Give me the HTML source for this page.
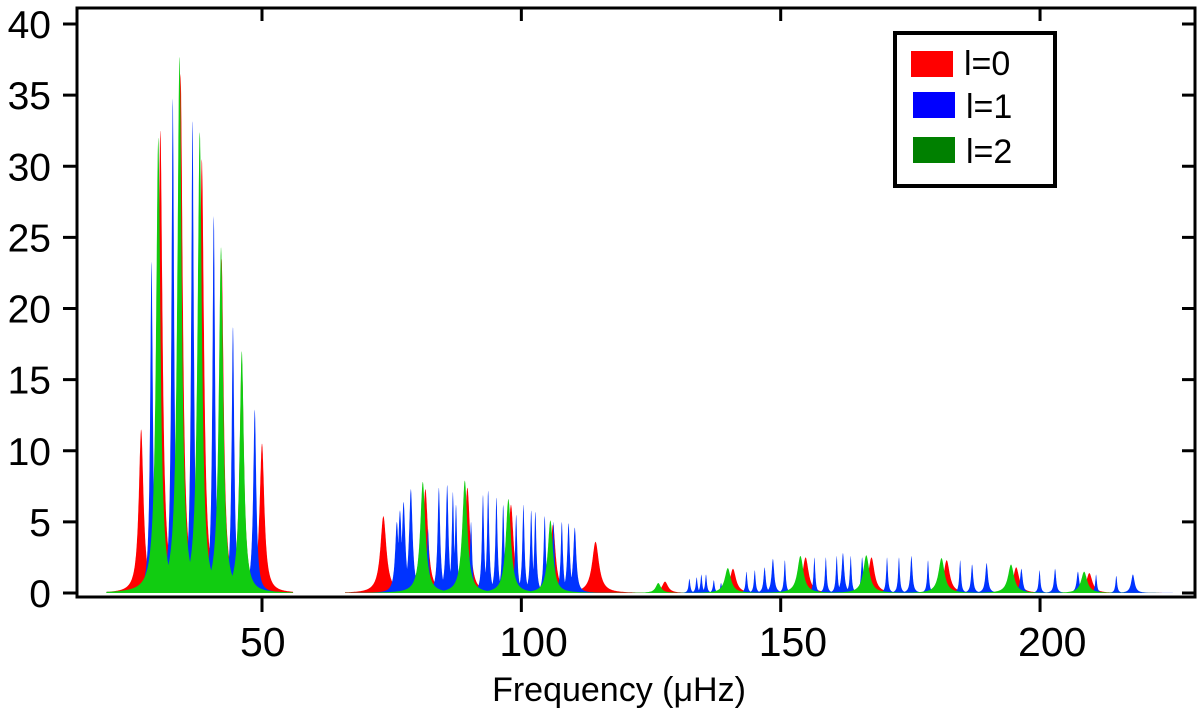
<!DOCTYPE html>
<html><head><meta charset="utf-8"><style>
body{margin:0;background:#fff;}
svg text{font-family:"Liberation Sans",sans-serif;fill:#000;}
</style></head><body>
<svg id="chart" width="1200" height="713" viewBox="0 0 1200 713" xmlns="http://www.w3.org/2000/svg">
<g id="series"></g>
<g id="axes"></g>
<g>
<rect x="895" y="33" width="160" height="153" fill="#fff" stroke="#000" stroke-width="4"/>
<rect x="911" y="51" width="42" height="26" fill="#ff0000"/>
<text x="964" y="75" font-size="34">l=0</text>
<rect x="913" y="92" width="42" height="26" fill="#0000ff"/>
<text x="966" y="118" font-size="34">l=1</text>
<rect x="913" y="137" width="42" height="26" fill="#008000"/>
<text x="966" y="163" font-size="34">l=2</text>
</g>
</svg>
<script>
// l=0 modes
const freqL0 = [26.7,30.4,34.3,38.4,42.2,46.1,50.0, 73.4,81.5,89.6,98.0,106.1,114.3, 127.7,140.8,154.8,167.5,182.0,195.4,209.5];
const heightL0 = [11.5,32.5,36.5,30.5,23.5,16.3,10.5, 5.4,7.3,7.4,6.2,4.8,3.6, 0.8,1.7,2.5,2.5,2.3,1.8,1.4];
const widthL0 = [0.55,0.5,0.5,0.5,0.5,0.5,0.55, 0.7,0.6,0.6,0.6,0.6,0.8, 0.7,0.7,0.7,0.7,0.7,0.7,0.7];
// l=1 modes
const freqL1 = [28.7,32.8,36.6,40.7,44.4,48.6,
 76.0,76.6,77.3,78.7,82.0,84.1,85.7,86.8,87.4,90.3,92.6,93.6,95.2,96.5,99.0,100.4,101.9,102.7,104.5,106.2,107.8,109.1,110.3,
 132.4,133.8,134.7,135.6,137.1,138.5,143.4,145.0,146.9,148.5,150.8,156.5,158.7,160.8,162.0,163.5,165.7,170.5,172.8,175.2,178.4,184.6,186.9,189.7,196.4,199.9,202.9,207.3,210.8,214.7,217.9];
const heightL1 = [23.3,34.8,33.2,26.5,18.7,12.9,
 5.0,5.8,6.4,7.3,4.5,7.4,7.6,7.1,6.2,5.0,6.9,7.2,6.7,6.2,5.5,6.2,5.8,5.7,5.4,5.0,5.0,4.9,4.6,
 1.0,1.1,1.3,1.3,0.9,0.7,1.5,1.6,1.8,2.4,2.3,2.5,2.5,2.6,2.8,2.6,2.5,2.5,2.5,2.6,2.3,2.3,2.0,2.1,1.7,1.6,1.7,1.5,1.3,1.2,1.3];
const widthL1 = [0.3,0.3,0.3,0.3,0.3,0.35,
 0.4,0.4,0.4,0.4,0.25,0.3,0.3,0.25,0.25,0.25,0.25,0.25,0.25,0.25,0.25,0.25,0.25,0.25,0.25,0.25,0.25,0.3,0.35,
 0.2,0.2,0.2,0.2,0.2,0.2,0.2,0.2,0.25,0.3,0.2,0.2,0.2,0.2,0.3,0.2,0.25,0.2,0.2,0.25,0.2,0.2,0.25,0.3,0.3,0.2,0.25,0.3,0.2,0.2,0.4];
// l=2 modes
const freqL2 = [30.0,34.1,38.0,42.1,46.1, 81.0,89.1,97.5,105.6, 126.4,139.8,153.8,166.5,181.0,194.4,208.5];
const heightL2 = [32,37.7,32.4,24.3,17, 7.8,7.9,6.6,5.1, 0.7,1.75,2.6,2.65,2.45,2.0,1.5];
const widthL2 = [0.5,0.5,0.5,0.5,0.5, 0.6,0.6,0.6,0.6, 0.6,0.7,0.7,0.7,0.7,0.7,0.7];
const xTicks = [50,100,150,200];
const yTicks = [0,5,10,15,20,25,30,35,40];

const X0=77, X1=1195, Y0=597, Y1=8;
const xs = f => 262 + (f-50)*5.187;
const ys = v => 593 - v*14.225;
const NS="http://www.w3.org/2000/svg";
const series=document.getElementById('series');
const axes=document.getElementById('axes');

function spectrum(fr,hs,ws,color,name){
  const groups=[[20,56],[66,125],[118,228]];
  groups.forEach((g,gi)=>{
    let d='M'+xs(g[0]).toFixed(1)+','+ys(0);
    for(let f=g[0]; f<=g[1]; f+=0.03){
      let v=0;
      for(let i=0;i<fr.length;i++){ if(fr[i]<g[0]-3||fr[i]>g[1]+3) continue; const w=ws[i]; v=Math.max(v, hs[i]*w*w/((f-fr[i])*(f-fr[i])+w*w));}
      d+='L'+xs(f).toFixed(1)+','+ys(v).toFixed(1);
    }
    d+='L'+xs(g[1]).toFixed(1)+','+ys(0)+'Z';
    const p=document.createElementNS(NS,'path');
    p.setAttribute('d',d);p.setAttribute('fill',color);
    
    
    series.appendChild(p);
  });
}
spectrum(freqL0,heightL0,widthL0,'#ff0000','series-l0');
spectrum(freqL1,heightL1,widthL1,'#0033ff','series-l1');
spectrum(freqL2,heightL2,widthL2,'#11cc11','series-l2');

function el(tag,attrs,txt){const e=document.createElementNS(NS,tag);for(const k in attrs)e.setAttribute(k,attrs[k]);if(txt!==undefined)e.textContent=txt;axes.appendChild(e);return e;}
const frame=el('rect',{x:X0,y:Y1,width:X1-X0,height:Y0-Y1,fill:'none',stroke:'#000','stroke-width':3});


yTicks.forEach(v=>{
  const t=el('line',{x1:63,x2:X0,y1:ys(v),y2:ys(v),stroke:'#000','stroke-width':3});
  
  
  const t2=el('line',{x1:X1-13,x2:X1,y1:ys(v),y2:ys(v),stroke:'#000','stroke-width':3});
  
  
  const l=el('text',{x:51,y:ys(v)+14,'font-size':39,'text-anchor':'end'},String(v));
  
  
});
xTicks.forEach(v=>{
  const t=el('line',{x1:xs(v),x2:xs(v),y1:Y0,y2:612,stroke:'#000','stroke-width':3});
  
  
  const t2=el('line',{x1:xs(v),x2:xs(v),y1:Y1,y2:Y1+13,stroke:'#000','stroke-width':3});
  
  
  const l=el('text',{x:xs(v)-22,y:656,'font-size':41},String(v));
  
  
});
const xt=el('text',{x:619,y:701,'font-size':34,'text-anchor':'middle'},'Frequency (μHz)');


</script>
</body></html>
